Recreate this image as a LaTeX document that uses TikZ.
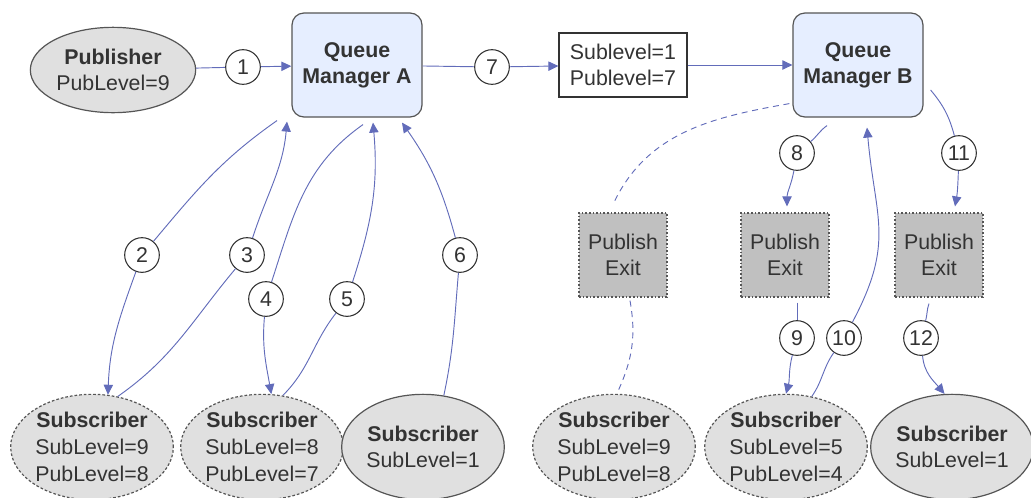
\documentclass[tikz,border=0pt]{standalone}
\usepackage{fontspec}
\setmainfont{Liberation Sans}
\usetikzlibrary{shapes, arrows.meta, positioning}

\definecolor{linkblue}{RGB}{98,108,186}
\definecolor{qmfill}{RGB}{230,238,255}
\definecolor{subfill}{RGB}{224,224,224}
\definecolor{exitfill}{RGB}{192,192,192}
\definecolor{inkgray}{RGB}{51,51,51}
\definecolor{edgegray}{RGB}{85,85,85}

\begin{document}
\begin{tikzpicture}[x=0.75pt, y=-0.75pt, >={Triangle[width=7pt, length=7.5pt]},
    every node/.style={font=\fontsize{16}{20}\selectfont, text=inkgray, align=center},
    qm/.style={draw=edgegray, fill=qmfill, line width=0.9pt, rounded corners=9pt,
        minimum width=97.5pt, minimum height=78pt, font=\fontsize{16}{19.5}\selectfont\bfseries},
    levels/.style={draw=inkgray, fill=white, line width=0.9pt, minimum width=96pt, minimum height=48pt},
    pubell/.style={ellipse, draw=edgegray, fill=subfill, line width=0.9pt, inner sep=0pt,
        minimum width=124pt, minimum height=64pt},
    subell/.style={ellipse, draw=edgegray, fill=subfill, line width=0.9pt, inner sep=0pt,
        minimum width=122pt, minimum height=79pt},
    subdash/.style={subell, dash pattern=on 2pt off 1.5pt},
    exitbox/.style={draw=edgegray, fill=exitfill, line width=0.9pt, dash pattern=on 1.2pt off 1.5pt,
        minimum width=66pt, minimum height=63pt},
    num/.style={circle, draw=inkgray, fill=white, line width=0.8pt, minimum size=26pt, inner sep=0pt},
    link/.style={draw=linkblue, line width=0.7pt},
    dashlink/.style={link, dash pattern=on 4.5pt off 3.5pt}]

    \useasboundingbox (0,0) rectangle (1031,497);

    % --- top row ---
    \node[pubell] (pub) at (113,70) {\textbf{Publisher}\\PubLevel=9};
    \node[qm] (qmA) at (357,65) {Queue\\Manager A};
    \node[levels] (lvl) at (623,65) {Sublevel=1\\Publevel=7};
    \node[qm] (qmB) at (858,65) {Queue\\Manager B};

    % --- publish exits ---
    \foreach \n/\x in {exA/623, exB/785, exC/939}
        \node[exitbox] (\n) at (\x,255) {Publish\\Exit};

    % --- subscribers ---
    \node[subdash] (subA) at (92,447) {\textbf{Subscriber}\\SubLevel=9\\PubLevel=8};
    \node[subdash] (subB) at (262,447) {\textbf{Subscriber}\\SubLevel=8\\PubLevel=7};
    \node[subell] (subC) at (423,447) {\textbf{Subscriber}\\SubLevel=1};
    \node[subdash] (subD) at (614,447) {\textbf{Subscriber}\\SubLevel=9\\PubLevel=8};
    \node[subdash] (subE) at (786,447) {\textbf{Subscriber}\\SubLevel=5\\PubLevel=4};
    \node[subell] (subF) at (952,447) {\textbf{Subscriber}\\SubLevel=1};

    % --- step numbers ---
    \foreach \n/\x/\y in {1/243/67, 2/142/255, 3/247/255, 4/266/299, 5/347/299, 6/460/255,
                          7/492/67, 8/797/153, 9/797/338, 10/844/338, 11/959/153, 12/921/338}
        \node[num] (c\n) at (\x,\y) {\n};

    % (1) and (7): publication flows to the right
    \draw[link] (pub) -- (c1);
    \draw[link, ->] (c1) -- (qmA);
    \draw[link] (qmA) -- (c7);
    \draw[link, ->] (c7) -- (lvl);
    \draw[link, ->] (lvl) -- (qmB);

    % (2)-(6): queue manager A and its subscribers
    \draw[link] ([shift={(-80,3)}]qmA.south) to[out=215, in=50] (c2);
    \draw[link, ->] (c2) to[out=250, in=88] (subA.73);
    \draw[link] (subA.63) to[out=35, in=230] (c3);
    \draw[link, ->] (c3) to[out=72, in=265] ([shift={(-70,4)}]qmA.south);
    \draw[link] ([shift={(6,7)}]qmA.south) to[out=215, in=72] (c4);
    \draw[link, ->] (c4) to[out=265, in=100] (subB.80);
    \draw[link] (subB.68) to[out=45, in=232] (c5);
    \draw[link, ->] (c5) to[out=72, in=275] ([shift={(16,5)}]qmA.south);
    \draw[link] (subC.68) to[out=78, in=265] (c6);
    \draw[link, ->] (c6) to[out=105, in=305] ([shift={(45,5)}]qmA.south);

    % no flow through the first exit
    \draw[dashlink] ([shift={(-3,-14)}]qmB.south west) to[out=190, in=65] ([shift={(-10,-8)}]exA.north);
    \draw[dashlink] ([shift={(7,3)}]exA.south) to[out=280, in=65] (subD.87);

    % (8)-(12): queue manager B through the exits
    \draw[link] ([shift={(-31,8)}]qmB.south) to[out=215, in=40] (c8);
    \draw[link, ->] (c8) to[out=260, in=90] ([shift={(2,-6)}]exB.north);
    \draw[link] ([shift={(12,5)}]exB.south) -- (c9);
    \draw[link, ->] (c9) to[out=255, in=75] (subE.90);
    \draw[link] (subE.63) to[out=55, in=235] (c10);
    \draw[link, ->] (c10) to[out=62, in=275, looseness=1.2] ([shift={(9,10)}]qmB.south);
    \draw[link] ([shift={(7,25)}]qmB.east) to[out=310, in=105] (c11);
    \draw[link, ->] (c11) to[out=268, in=80] ([shift={(16,-6)}]exC.north);
    \draw[link] ([shift={(-10,6)}]exC.south) to[out=250, in=75] (c12);
    \draw[link, ->] (c12) to[out=275, in=130] (subF.98);

\end{tikzpicture}
\end{document}
